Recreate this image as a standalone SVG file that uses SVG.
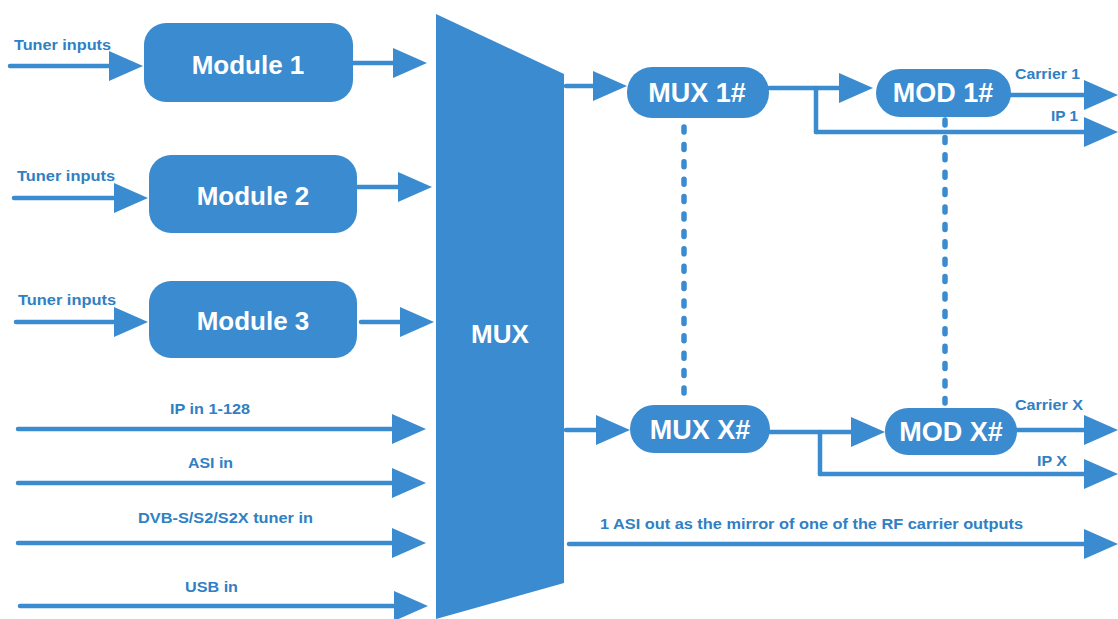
<svg xmlns="http://www.w3.org/2000/svg" width="1118" height="619" viewBox="0 0 1118 619">
<style>
.box{fill:#3a8bcf}
.big{font-family:"Liberation Sans",Arial,sans-serif;font-weight:bold;fill:#ffffff;text-anchor:middle}
.lbl{font-family:"Liberation Sans",Arial,sans-serif;font-weight:bold;fill:#2f80c4;font-size:14px}
.ln{stroke:#3a8bcf;stroke-width:4.5;fill:none;stroke-linecap:round}
.arr{stroke:#3a8bcf;stroke-width:4.5;fill:none;stroke-linecap:round;marker-end:url(#ah)}
.dot{stroke:#3a8bcf;stroke-width:5.5;fill:none;stroke-linecap:round;stroke-dasharray:5 12.4}
</style>
<defs>
<marker id="ah" viewBox="0 0 34 30" markerWidth="34" markerHeight="30" refX="10" refY="15" orient="auto" markerUnits="userSpaceOnUse">
<path d="M0,0 L34,15 L0,30 Z" fill="#3a8bcf"/>
</marker>
</defs>
<rect width="1118" height="619" fill="#ffffff"/>
<g id="connectors">
<line class="arr" x1="10" y1="66" x2="119" y2="66"/>
<line class="arr" x1="353" y1="63" x2="403" y2="63"/>
<line class="arr" x1="14" y1="198" x2="124" y2="198"/>
<line class="arr" x1="357" y1="187" x2="408" y2="187"/>
<line class="arr" x1="16" y1="322" x2="124" y2="322"/>
<line class="arr" x1="361" y1="322" x2="410" y2="322"/>
<line class="arr" x1="18" y1="429" x2="402" y2="429"/>
<line class="arr" x1="18" y1="483" x2="402" y2="483"/>
<line class="arr" x1="18" y1="543" x2="402" y2="543"/>
<line class="arr" x1="20" y1="606" x2="404" y2="606"/>
<line class="arr" x1="566" y1="86" x2="603" y2="86"/>
<line class="arr" x1="769" y1="88" x2="849" y2="88"/>
<line class="ln" x1="816" y1="88" x2="816" y2="132"/>
<line class="arr" x1="816" y1="132" x2="1094" y2="132"/>
<line class="arr" x1="1011" y1="95" x2="1094" y2="95"/>
<line class="arr" x1="566" y1="430" x2="606" y2="430"/>
<line class="arr" x1="770" y1="432" x2="861" y2="432"/>
<line class="ln" x1="820" y1="432" x2="820" y2="474"/>
<line class="arr" x1="820" y1="474" x2="1094" y2="474"/>
<line class="arr" x1="1017" y1="430" x2="1094" y2="430"/>
<line class="arr" x1="569" y1="544" x2="1094" y2="544"/>
<line class="dot" x1="684" y1="127" x2="684" y2="395"/>
<line class="dot" x1="945" y1="120" x2="945" y2="403"/>
</g>
<g id="labels">
<text class="lbl" x="14" y="50" textLength="97" lengthAdjust="spacingAndGlyphs">Tuner inputs</text>
<text class="lbl" x="17" y="181" textLength="98" lengthAdjust="spacingAndGlyphs">Tuner inputs</text>
<text class="lbl" x="18" y="305" textLength="98" lengthAdjust="spacingAndGlyphs">Tuner inputs</text>
<text class="lbl" x="170" y="414" textLength="80" lengthAdjust="spacingAndGlyphs">IP in 1-128</text>
<text class="lbl" x="188" y="468" textLength="45" lengthAdjust="spacingAndGlyphs">ASI in</text>
<text class="lbl" x="138" y="523" textLength="175" lengthAdjust="spacingAndGlyphs">DVB-S/S2/S2X tuner in</text>
<text class="lbl" x="185" y="592" textLength="53" lengthAdjust="spacingAndGlyphs">USB in</text>
<text class="lbl" x="1015" y="79" textLength="65" lengthAdjust="spacingAndGlyphs">Carrier 1</text>
<text class="lbl" x="1051" y="121" textLength="27" lengthAdjust="spacingAndGlyphs">IP 1</text>
<text class="lbl" x="1015" y="410" textLength="68" lengthAdjust="spacingAndGlyphs">Carrier X</text>
<text class="lbl" x="1037" y="466" textLength="30" lengthAdjust="spacingAndGlyphs">IP X</text>
<text class="lbl" x="600" y="529" textLength="423" lengthAdjust="spacingAndGlyphs">1 ASI out as the mirror of one of the RF carrier outputs</text>
</g>
<g id="mux">
<path class="box" d="M436,14 L564,74 L564,583 L436,619 Z"/>
<text class="big" x="500" y="343" font-size="26">MUX</text>
</g>
<g id="module1">
<rect class="box" x="144" y="23" width="209" height="79" rx="22"/>
<text class="big" x="248" y="74" font-size="26">Module 1</text>
</g>
<g id="module2">
<rect class="box" x="149" y="155" width="208" height="78" rx="22"/>
<text class="big" x="253" y="205" font-size="26">Module 2</text>
</g>
<g id="module3">
<rect class="box" x="149" y="281" width="208" height="77" rx="22"/>
<text class="big" x="253" y="330" font-size="26">Module 3</text>
</g>
<g id="mux1">
<rect class="box" x="627" y="67" width="142" height="51" rx="25"/>
<text class="big" x="697" y="102" font-size="27">MUX 1#</text>
</g>
<g id="mod1">
<rect class="box" x="876" y="69" width="135" height="48" rx="24"/>
<text class="big" x="943" y="102" font-size="27">MOD 1#</text>
</g>
<g id="muxx">
<rect class="box" x="630" y="405" width="140" height="48" rx="24"/>
<text class="big" x="700" y="439" font-size="27">MUX X#</text>
</g>
<g id="modx">
<rect class="box" x="885" y="408" width="132" height="47" rx="23"/>
<text class="big" x="951" y="441" font-size="27">MOD X#</text>
</g>
</svg>
